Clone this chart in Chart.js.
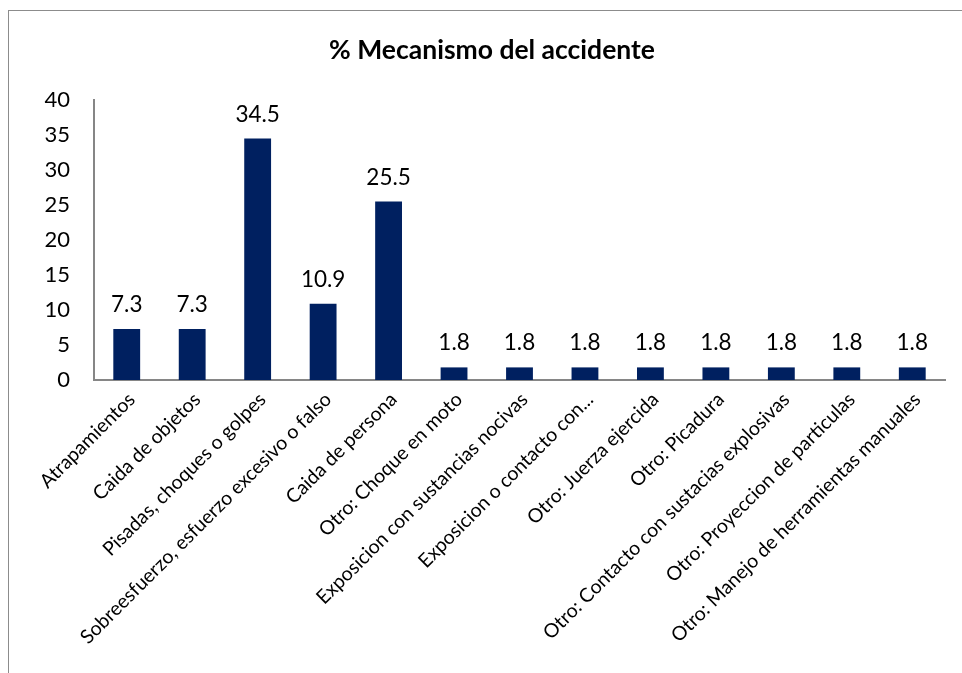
<!DOCTYPE html>
<html>
<head>
<meta charset="utf-8">
<script src="https://cdn.jsdelivr.net/npm/chart.js@4/dist/chart.umd.min.js"></script>
<style>
  html, body { margin: 0; padding: 0; background: #fff; overflow: hidden; }
  #wrap { position: relative; width: 962px; height: 673px; }
  #frame { position: absolute; left: 8px; top: 10px; width: 1000px; height: 700px; border: 1.5px solid #8c8c8c; box-sizing: border-box; }
  canvas { position: absolute; left: 0; top: 0; }
</style>
</head>
<body>
<div id="wrap">
  <div id="frame"></div>
  <canvas id="myChart" width="962" height="673"></canvas>
</div>
<script>
const chartTitle = '% Mecanismo del accidente';

const categories = [
  'Atrapamientos',
  'Caida de objetos',
  'Pisadas, choques o golpes',
  'Sobreesfuerzo, esfuerzo excesivo o falso',
  'Caida de persona',
  'Otro: Choque en moto',
  'Exposicion con sustancias nocivas',
  'Exposicion o contacto con...',
  'Otro: Juerza ejercida',
  'Otro: Picadura',
  'Otro: Contacto con sustacias explosivas',
  'Otro: Proyeccion de particulas',
  'Otro: Manejo de herramientas manuales'
];

const percentages = [7.3, 7.3, 34.5, 10.9, 25.5, 1.8, 1.8, 1.8, 1.8, 1.8, 1.8, 1.8, 1.8];

const yTicks = [0, 5, 10, 15, 20, 25, 30, 35, 40];

const fontFamily = 'Lato, "Open Sans", sans-serif';

// title + value labels drawn on the canvas
const extras = {
  id: 'extras',
  afterDatasetsDraw(chart) {
    const ctx = chart.ctx;
    ctx.save();
    ctx.fillStyle = '#000';
    ctx.font = 'bold 26.5px ' + fontFamily;
    ctx.textAlign = 'center';
    ctx.textBaseline = 'middle';
    ctx.fillText(chartTitle, 492, 50);

    ctx.font = '22.5px ' + fontFamily;
    ctx.textBaseline = 'bottom';
    const meta = chart.getDatasetMeta(0);
    meta.data.forEach((bar, i) => {
      ctx.fillText(percentages[i].toFixed(1), bar.x, bar.y - 13);
    });
    ctx.restore();
  }
};

new Chart(document.getElementById('myChart').getContext('2d'), {
  type: 'bar',
  data: {
    labels: categories,
    datasets: [{
      label: chartTitle,
      data: percentages,
      backgroundColor: '#002060',
      borderWidth: 0,
      categoryPercentage: 1,
      barPercentage: 0.41
    }]
  },
  options: {
    responsive: false,
    animation: false,
    layout: { padding: { top: 100, right: 17, left: 0, bottom: 0 } },
    plugins: {
      legend: { display: false },
      title: { display: false },
      tooltip: { enabled: false }
    },
    scales: {
      x: {
        grid: { display: false, drawTicks: false },
        border: { color: '#868686', width: 2 },
        ticks: {
          color: '#000',
          font: { family: fontFamily, size: 19.5 },
          maxRotation: 45,
          minRotation: 45,
          autoSkip: false,
          labelOffset: 5,
          padding: 8
        },
        afterFit(scale) { scale.height = 293; }
      },
      y: {
        min: 0,
        max: 40,
        afterBuildTicks(scale) { scale.ticks = yTicks.map(v => ({ value: v })); },
        grid: { display: false, drawTicks: false },
        border: { color: '#868686', width: 2 },
        ticks: {
          color: '#000',
          font: { family: fontFamily, size: 22 },
          padding: 24
        },
        afterFit(scale) { scale.width = 94; }
      }
    }
  },
  plugins: [extras]
});
</script>
</body>
</html>
